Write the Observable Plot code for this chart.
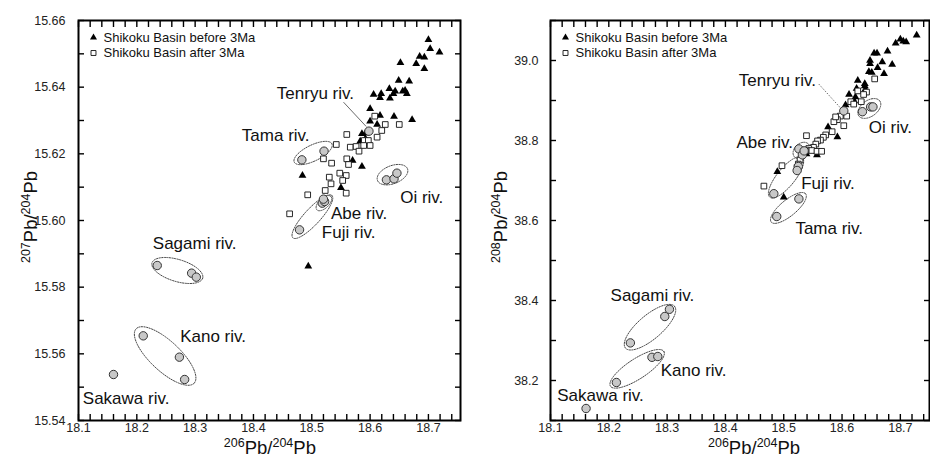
<!DOCTYPE html>
<html><head><meta charset="utf-8">
<script src="https://cdn.jsdelivr.net/npm/d3@7"></script>
<script src="https://cdn.jsdelivr.net/npm/@observablehq/plot@0.6"></script>
<style>
html,body{margin:0;padding:0;background:#fff;}
#wrap{display:flex;width:930px;height:457px;overflow:hidden;}
</style></head><body><div id="wrap"></div>
<script>
// ---------- DATA: left panel (207Pb/204Pb vs 206Pb/204Pb) ----------
const leftBeforeX = [18.700,18.703,18.719,18.685,18.693,18.679,18.693,18.652,18.649,18.667,18.606,18.619,18.617,18.633,18.634,18.640,18.643,18.660,18.663,18.656,18.600,18.617,18.641,18.672,18.600,18.612,18.586,18.592,18.592,18.583,18.570,18.586,18.484,18.550,18.494];
const leftBeforeY = [15.6542,15.6515,15.6505,15.6492,15.6490,15.6470,15.6455,15.6473,15.6420,15.6418,15.6378,15.6380,15.6368,15.6395,15.6367,15.6380,15.6388,15.6390,15.6380,15.6388,15.6335,15.6315,15.6312,15.6302,15.6298,15.6288,15.6260,15.6262,15.6245,15.6238,15.6180,15.6162,15.6135,15.6098,15.5863];
const leftAfterX = [18.608,18.626,18.620,18.650,18.560,18.612,18.590,18.597,18.589,18.600,18.542,18.566,18.576,18.581,18.520,18.560,18.534,18.563,18.548,18.559,18.530,18.553,18.533,18.523,18.559,18.493,18.462];
const leftAfterY = [15.6313,15.6288,15.6270,15.6288,15.6258,15.6250,15.6240,15.6240,15.6225,15.6225,15.6228,15.6220,15.6222,15.6208,15.6185,15.6185,15.6172,15.6168,15.6142,15.6135,15.6130,15.6120,15.6110,15.6090,15.6082,15.6077,15.6020];
const leftRiverX = [18.598, 18.483,18.521, 18.628,18.641,18.646, 18.518,18.522,18.520, 18.479, 18.235,18.294,18.302, 18.211,18.273,18.282, 18.160];
const leftRiverY = [15.6268, 15.6182,15.6208, 15.6122,15.6125,15.6142, 15.6052,15.6057,15.6064, 15.5972, 15.5865,15.5842,15.5830, 15.5654,15.5590,15.5523, 15.5538];

// ---------- DATA: right panel (208Pb/204Pb vs 206Pb/204Pb) ----------
const rightBeforeX = [18.728,18.700,18.705,18.710,18.692,18.655,18.660,18.678,18.648,18.648,18.669,18.686,18.661,18.646,18.651,18.672,18.627,18.639,18.639,18.640,18.625,18.612,18.623,18.621,18.606,18.576,18.592,18.539,18.557,18.489,18.500];
const rightBeforeY = [39.063,39.053,39.048,39.046,39.043,39.018,39.018,39.023,39.000,38.992,38.996,38.990,38.982,38.972,38.970,38.967,38.950,38.942,38.936,38.928,38.930,38.915,38.909,38.899,38.889,38.834,38.809,38.766,38.764,38.722,38.658];
const rightAfterX = [18.656,18.627,18.642,18.637,18.615,18.620,18.633,18.603,18.608,18.597,18.592,18.586,18.589,18.603,18.583,18.572,18.568,18.563,18.558,18.555,18.551,18.539,18.543,18.548,18.538,18.557,18.565,18.528,18.525,18.523,18.497,18.466];
const rightAfterY = [38.954,38.924,38.921,38.915,38.897,38.891,38.897,38.870,38.861,38.861,38.852,38.847,38.859,38.837,38.822,38.814,38.808,38.801,38.799,38.791,38.783,38.812,38.780,38.775,38.776,38.773,38.773,38.751,38.741,38.733,38.737,38.686];
const rightRiverX = [18.603, 18.635,18.649,18.653, 18.526,18.532,18.535, 18.525,18.523,18.483, 18.526,18.488, 18.237,18.296,18.304, 18.213,18.274,18.284, 18.161];
const rightRiverY = [38.874, 38.872,38.884,38.884, 38.779,38.764,38.774, 38.735,38.725,38.667, 38.654,38.610, 38.294,38.360,38.378, 38.195,38.258,38.260, 38.130];

// ---------- river labels (anchor points, data units) ----------
const riverNames = ["Tenryu riv.","Tama riv.","Oi riv.","Abe riv.","Fuji riv.","Sagami riv.","Kano riv.","Sakawa riv."];
const leftLabelX = [18.4401,18.3801,18.6516,18.5328,18.5173,18.2274,18.2743,18.1074];
const leftLabelY = [15.6382,15.6255,15.6070,15.6020,15.5963,15.5932,15.5652,15.5467];
const rightLabelX = [18.423,18.520,18.646,18.419,18.530,18.203,18.289,18.1115];
const rightLabelY = [38.951,38.581,38.832,38.795,38.693,38.412,38.225,38.163];

// ---------- group ellipses: major-axis end points (data units) ----------
const leftEllipseNames = ["Tama","Oi","Abe","Fuji","Sagami","Kano"];
const leftEllX1 = [18.4700,18.6127,18.5088,18.4676,18.2261,18.1988];
const leftEllY1 = [15.6175,15.6120,15.6032,15.5948,15.5873,15.5675];
const leftEllX2 = [18.5345,18.6641,18.5328,18.5345,18.3129,18.2983];
const leftEllY2 = [15.6230,15.6155,15.6072,15.6075,15.5827,15.5512];
const rightEllipseNames = ["Oi","Abe","Fuji","Tama","Sagami","Kano"];
const rightEllX1 = [18.6288,18.5185,18.4762,18.4786,18.2286,18.2029];
const rightEllY1 = [38.8614,38.7590,38.6582,38.5960,38.2810,38.1856];
const rightEllX2 = [18.6648,18.5425,18.5317,18.5375,18.3127,18.2943];
const rightEllY2 = [38.8987,38.7910,38.7577,38.6667,38.3855,38.2727];

// ---------- Tenryu leader lines ----------
const leftLeader = {x1: 18.5544, y1: 15.6355, x2: 18.5933, y2: 15.6282};
const rightLeader = {x1: 18.5602, y1: 38.941, x2: 18.5974, y2: 38.8813};

// ---------- tick labels ----------
const xTickLabels = [18.1,18.2,18.3,18.4,18.5,18.6,18.7];
const leftYTickLabels = [15.54,15.56,15.58,15.60,15.62,15.64,15.66];
const rightYTickLabels = [38.2,38.4,38.6,38.8,39.0];
const legendLabels = ["Shikoku Basin before 3Ma","Shikoku Basin after 3Ma"];

// ---------- styling (not data) ----------
const leftEllW = [8,9,5,8,11,15];
const rightEllW = [8,7,9,8,12,10];

const zip = (xs, ys) => xs.map((x, i) => ({x, y: ys[i]}));

function makePanel(cfg) {
  const W = 465, H = 457;
  const {ml, mr, mt, mb, xDomain, yDomain} = cfg;
  const kx = (W - ml - mr) / (xDomain[1] - xDomain[0]);
  const ky = (H - mt - mb) / (yDomain[1] - yDomain[0]);
  const ells = [];
  cfg.ellX1.forEach((x1, i) => {
    const e = {x1, y1: cfg.ellY1[i], x2: cfg.ellX2[i], y2: cfg.ellY2[i], w: cfg.ellW[i]};
    const cx = (e.x1 + e.x2) / 2, cy = (e.y1 + e.y2) / 2;
    const ax = (e.x2 - e.x1) / 2, ay = (e.y2 - e.y1) / 2;
    const px = ax * kx, py = -ay * ky, L = Math.hypot(px, py);
    const bx = (-py / L * e.w) / kx, by = -((px / L * e.w)) / ky;
    for (let j = 0; j <= 96; j++) {
      const t = 2 * Math.PI * j / 96;
      ells.push({id: i, x: cx + Math.cos(t) * ax + Math.sin(t) * bx, y: cy + Math.cos(t) * ay + Math.sin(t) * by});
    }
  });
  const xMinor = d3.range(0, Math.round((xDomain[1] - xDomain[0]) / 0.02) + 1).map(i => +(xDomain[0] + i * 0.02).toFixed(2)).filter(v => v <= xDomain[1]);
  const yMinor = d3.range(0, Math.round((yDomain[1] - yDomain[0]) / cfg.yStep) + 1).map(i => +(yDomain[0] + i * cfg.yStep).toFixed(3));
  const labels = riverNames.map((t, i) => ({t, x: cfg.labX[i], y: cfg.labY[i]}));
  const fig = Plot.plot({
    width: W, height: H,
    marginLeft: ml, marginRight: mr, marginTop: mt, marginBottom: mb,
    x: {domain: xDomain},
    y: {domain: yDomain},
    style: {fontFamily: "'Liberation Sans', Arial, sans-serif", fontSize: "12.5px", color: "#222", background: "white"},
    marks: [
      Plot.line(ells, {x: "x", y: "y", z: "id", stroke: "#444", strokeWidth: 1, strokeDasharray: "1.3,1.3", curve: "linear"}),
      Plot.link([cfg.leader], {x1: "x1", y1: "y1", x2: "x2", y2: "y2", stroke: "#444", strokeWidth: 0.8, strokeDasharray: cfg.leaderDash}),
      Plot.dot(zip(cfg.bx, cfg.by), {x: "x", y: "y", symbol: "triangle", r: 2.9, fill: "black", stroke: "none"}),
      Plot.dot(zip(cfg.ax, cfg.ay), {x: "x", y: "y", symbol: "square", r: 3.2, fill: "white", stroke: "#111", strokeWidth: 0.9}),
      Plot.dot(zip(cfg.rx, cfg.ry), {x: "x", y: "y", r: 4.2, fill: "#c8c8c8", stroke: "#333", strokeWidth: 1}),
      Plot.text(labels, {x: "x", y: "y", text: "t", textAnchor: "start", lineAnchor: "middle", fontSize: 17, fill: "#111"}),
      // inward ticks on all four sides (negative tick size points into the frame)
      Plot.axisX({anchor: "bottom", ticks: xMinor, tickSize: -6, strokeWidth: 1.4, stroke: "black", tickFormat: () => "", label: null}),
      Plot.axisX({anchor: "top", ticks: xMinor, tickSize: -6, strokeWidth: 1.4, stroke: "black", tickFormat: () => "", label: null}),
      Plot.axisY({anchor: "left", ticks: yMinor, tickSize: -6, strokeWidth: 1.4, stroke: "black", tickFormat: () => "", label: null}),
      Plot.axisY({anchor: "right", ticks: yMinor, tickSize: -6, strokeWidth: 1.4, stroke: "black", tickFormat: () => "", label: null}),
      Plot.axisX({anchor: "bottom", ticks: xTickLabels, tickSize: 0, tickPadding: 3, tickFormat: d => d.toFixed(1), label: null, fill: "#222"}),
      Plot.axisY({anchor: "left", ticks: cfg.yLabels, tickSize: 0, tickPadding: cfg.yPad, tickFormat: d => d.toFixed(cfg.yDec), label: null, fill: "#222"}),
      Plot.frame({stroke: "black", strokeWidth: 2}),
      Plot.dot([0], {frameAnchor: "top-left", dx: 15, dy: 17, symbol: "triangle", r: 2.6, fill: "black"}),
      Plot.dot([0], {frameAnchor: "top-left", dx: 15, dy: 32.5, symbol: "square", r: 2.8, fill: "white", stroke: "#111", strokeWidth: 0.9}),
      Plot.text([legendLabels[0]], {frameAnchor: "top-left", dx: 25, dy: 17, text: d => d, textAnchor: "start", lineAnchor: "middle", fontSize: 13, fill: "#111"}),
      Plot.text([legendLabels[1]], {frameAnchor: "top-left", dx: 25, dy: 32.5, text: d => d, textAnchor: "start", lineAnchor: "middle", fontSize: 13, fill: "#111"})
    ]
  });
  const sx = d3.scaleLinear(xDomain, [ml, W - mr]);
  const svg = d3.select(fig);
  const sup = (t, a, b) => {
    t.append("tspan").attr("font-size", 12.5).attr("dy", -7).text(a);
    t.append("tspan").attr("dy", 7).text("Pb/");
    t.append("tspan").attr("font-size", 12.5).attr("dy", -7).text(b);
    t.append("tspan").attr("dy", 7).text("Pb");
  };
  const xt = svg.append("text").attr("x", sx(cfg.xTitleAt)).attr("y", 454).attr("text-anchor", "middle")
    .attr("font-size", 18.5).attr("fill", "#111").attr("font-family", "'Liberation Sans', Arial, sans-serif");
  sup(xt, "206", "204");
  const yt = svg.append("text").attr("transform", `translate(${cfg.yTitleX},217) rotate(-90)`).attr("text-anchor", "middle")
    .attr("font-size", 18.5).attr("fill", "#111").attr("font-family", "'Liberation Sans', Arial, sans-serif");
  sup(yt, cfg.yNum, "204");
  return fig;
}

const wrap = document.getElementById("wrap");
wrap.append(makePanel({
  ml: 78, mr: 5, mt: 20, mb: 37, xDomain: [18.1, 18.755], yDomain: [15.54, 15.66], yStep: 0.01,
  yLabels: leftYTickLabels, yDec: 2, yPad: 13,
  bx: leftBeforeX, by: leftBeforeY, ax: leftAfterX, ay: leftAfterY, rx: leftRiverX, ry: leftRiverY,
  labX: leftLabelX, labY: leftLabelY,
  ellX1: leftEllX1, ellY1: leftEllY1, ellX2: leftEllX2, ellY2: leftEllY2, ellW: leftEllW,
  leader: leftLeader, leaderDash: null, xTitleAt: 18.429, yTitleX: 36.5, yNum: "207"
}));
wrap.append(makePanel({
  ml: 85, mr: 1, mt: 20, mb: 37, xDomain: [18.1, 18.75], yDomain: [38.1, 39.1], yStep: 0.1,
  yLabels: rightYTickLabels, yDec: 1, yPad: 12,
  bx: rightBeforeX, by: rightBeforeY, ax: rightAfterX, ay: rightAfterY, rx: rightRiverX, ry: rightRiverY,
  labX: rightLabelX, labY: rightLabelY,
  ellX1: rightEllX1, ellY1: rightEllY1, ellX2: rightEllX2, ellY2: rightEllY2, ellW: rightEllW,
  leader: rightLeader, leaderDash: "1.5,1.5", xTitleAt: 18.45, yTitleX: 41.5, yNum: "208"
}));
</script></body></html>
